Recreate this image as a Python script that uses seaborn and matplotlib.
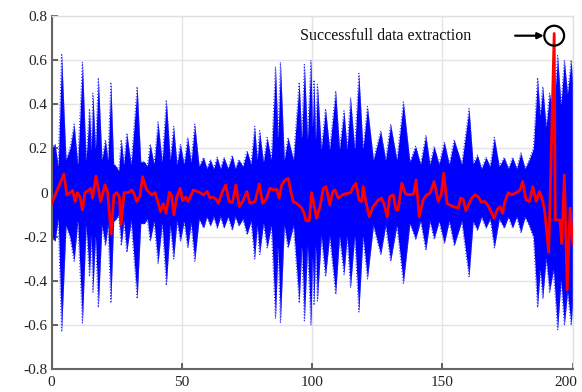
import matplotlib
matplotlib.use("Agg")
import matplotlib.pyplot as plt
import matplotlib.transforms as mtransforms
import seaborn as sns
import numpy as np
import pandas as pd
from matplotlib.patches import Ellipse

# ---------------- data ----------------
# envelope of the blue trace bundle (upper half; the bundle is symmetric about 0)
env_x = [0, 1.3, 2.5, 3.8, 5.5, 7, 8.6, 10, 11.8, 13.2, 14.5, 15.2, 15.8, 16.8, 17.9,
         19.3, 20.6, 21.6, 22.7, 23.8, 24.7, 25.7, 26.7, 27.7, 28.8, 30.5, 32.8, 34.2,
         35.6, 36.7, 37.8, 39.3, 40.8, 42.4, 44, 45.5, 46.8, 48.1, 49.4, 50.8, 52.2,
         53.5, 54.9, 56.6, 58.3, 59.6, 60.9, 62.2, 63.5, 64.8, 66.1, 67.7, 69.3, 70.5,
         71.8, 73.4, 75, 76.5, 77.9, 78.9, 79.8, 81.3, 82.7, 84.3, 85.9, 86.9, 87.8,
         89.3, 90.7, 92.8, 95, 96, 97, 98.2, 99.5, 100.1, 100.7, 101.3, 102, 103.5,
         105.1, 106.7, 109, 110.5, 112.2, 113.4, 114.7, 116.3, 117.9, 119.5, 121.2,
         123.5, 126.3, 128.2, 130.1, 132.5, 135, 137.5, 139.7, 141.6, 143.6, 145.2,
         146.8, 148.7, 150.7, 152.6, 154.5, 157.4, 160.2, 161.8, 163.4, 165, 166.7,
         168.3, 169.9, 171.8, 173.7, 175.3, 176.9, 178.5, 180.1, 181.7, 183.3, 184.9,
         186.5, 187.5, 188.5, 189.8, 191.1, 192.6, 194.2, 195.5, 196.8, 198, 199.4, 200]
env_amp = [0.20, 0.22, 0.12, 0.63, 0.15, 0.20, 0.31, 0.13, 0.59, 0.15, 0.38, 0.20, 0.45,
           0.20, 0.52, 0.15, 0.24, 0.15, 0.50, 0.13, 0.12, 0.10, 0.24, 0.13, 0.27, 0.13,
           0.48, 0.14, 0.14, 0.12, 0.22, 0.13, 0.32, 0.14, 0.42, 0.15, 0.30, 0.13, 0.22,
           0.13, 0.25, 0.14, 0.31, 0.12, 0.16, 0.11, 0.15, 0.11, 0.16, 0.11, 0.16, 0.11,
           0.17, 0.11, 0.15, 0.12, 0.19, 0.13, 0.30, 0.15, 0.28, 0.14, 0.25, 0.15, 0.57,
           0.25, 0.59, 0.15, 0.25, 0.15, 0.50, 0.25, 0.58, 0.25, 0.60, 0.30, 0.51, 0.25,
           0.49, 0.20, 0.38, 0.20, 0.46, 0.20, 0.37, 0.20, 0.43, 0.20, 0.54, 0.20, 0.39,
           0.15, 0.28, 0.15, 0.31, 0.15, 0.41, 0.14, 0.21, 0.13, 0.26, 0.13, 0.21, 0.13,
           0.23, 0.13, 0.24, 0.13, 0.38, 0.13, 0.17, 0.11, 0.16, 0.12, 0.25, 0.12, 0.16,
           0.11, 0.16, 0.11, 0.18, 0.11, 0.15, 0.20, 0.52, 0.35, 0.48, 0.30, 0.45, 0.35,
           0.62, 0.40, 0.60, 0.45, 0.60, 0.50]

# red (extracted) trace
red_x = [0, 4.7, 5.8, 7.1, 8.1, 9.0, 9.9, 10.9, 11.8, 12.8, 14.1, 15.0, 15.7, 17.0, 18.8,
         20.5, 21.5, 22.8, 23.9, 25.0, 26.0, 26.6, 27.8, 29.4, 30.7, 31.3, 32.6, 33.9,
         34.9, 36.5, 38.4, 39.7, 40.6, 41.8, 42.8, 43.9, 45.2, 46.0, 46.9, 48.0, 49.3,
         50.3, 51.5, 52.4, 54.4, 57.0, 58.3, 59.7, 60.8, 61.8, 63.1, 64.0, 65.3, 66.8,
         68.1, 69.4, 70.7, 72.0, 73.3, 74.9, 76.1, 78.1, 79.7, 81.0, 82.3, 83.8, 85.1,
         86.4, 87.3, 88.3, 89.6, 90.8, 91.8, 92.7, 94.0, 96.0, 96.9, 97.6, 98.9, 99.8,
         101.7, 103.0, 104.3, 105.3, 106.8, 107.9, 108.8, 110.0, 112.0, 113.5, 114.8,
         115.8, 116.8, 118.0, 119.0, 119.6, 120.6, 121.9, 123.4, 125.4, 126.6, 127.5,
         128.8, 129.8, 131.1, 132.2, 133.0, 134.4, 135.7, 137.0, 138.9, 139.9, 141.1,
         142.6, 143.9, 145.2, 146.8, 148.4, 149.5, 150.5, 151.8, 154.2, 156.1, 157.0,
         158.0, 159.0, 161.2, 162.5, 163.8, 165.0, 166.3, 167.6, 169.8, 171.1, 172.1,
         173.1, 174.0, 175.3, 176.6, 178.3, 179.8, 180.8, 182.1, 183.4, 184.7, 186.0,
         187.2, 188.1, 189.2, 190.8, 192.9, 193.3, 195.1, 195.8, 196.8, 197.9, 199.0, 200.0]
red_y = [-0.05, 0.085, -0.01, 0.0, 0.01, -0.04, 0.0, -0.02, -0.078, 0.0, 0.01, 0.02, -0.025,
         0.075, -0.04, 0.035, 0.0, -0.187, -0.01, 0.0, -0.02, -0.146, 0.0, 0.0, 0.012, 0.005,
         -0.04, -0.015, 0.072, 0.012, -0.01, 0.0, -0.035, -0.086, -0.05, -0.093, 0.002, -0.01,
         -0.1, -0.02, 0.02, -0.036, -0.02, -0.04, 0.012, 0.0, -0.01, 0.005, -0.025, -0.02,
         -0.03, -0.048, -0.003, 0.035, -0.04, -0.045, 0.035, -0.063, -0.04, 0.005, -0.048,
         -0.04, 0.04, -0.048, -0.03, 0.02, 0.012, 0.015, -0.025, 0.035, 0.057, 0.065, 0.005,
         -0.04, -0.048, -0.07, -0.093, -0.127, -0.127, 0.0, -0.116, -0.063, 0.02, 0.027,
         -0.056, 0.005, 0.012, -0.025, -0.007, -0.003, 0.0, 0.027, 0.042, -0.033, -0.04,
         0.027, -0.04, -0.109, -0.063, -0.033, -0.025, -0.048, -0.109, -0.018, -0.01, -0.078,
         -0.078, 0.042, -0.003, -0.01, -0.007, 0.057, -0.109, -0.033, -0.01, -0.003, 0.05,
         -0.04, -0.01, 0.088, -0.05, -0.063, -0.07, -0.025, -0.03, -0.081, -0.025, -0.01,
         -0.02, -0.043, -0.04, -0.06, -0.116, -0.076, -0.063, -0.093, -0.04, 0.0, -0.01, 0.0,
         0.012, 0.05, -0.033, -0.04, 0.027, -0.04, 0.005, -0.02, -0.078, -0.27, 0.72, -0.124,
         -0.124, -0.23, 0.08, -0.44, -0.07, -0.23]

x_ticks = [0, 50, 100, 150, 200]
y_ticks = [-0.8, -0.6, -0.4, -0.2, 0, 0.2, 0.4, 0.6, 0.8]
y_tick_labels = ["-0.8", "-0.6", "-0.4", "-0.2", "0", "0.2", "0.4", "0.6", "0.8"]
annotation_text = "Successfull data extraction"
highlight_x, highlight_y = 192.9, 0.71

# ---------------- styling ----------------
sns.set_theme(style="whitegrid")
plt.rcParams["font.family"] = ["Liberation Serif", "DejaVu Serif"]
plt.rcParams["axes.unicode_minus"] = False

fig = plt.figure(figsize=(5.82, 3.92), dpi=100)
ax = fig.add_axes([0.0888, 0.0574, 0.984 - 0.0888, 0.9597 - 0.0574])

env = pd.DataFrame({"x": env_x, "upper": env_amp})
env["lower"] = -env["upper"]

ax.fill_between(env["x"], env["lower"], env["upper"], color="#0000FF", lw=0, zorder=2)
sns.lineplot(data=env, x="x", y="upper", ax=ax, color="#3333FF", lw=0.8,
             linestyle=":", zorder=2, estimator=None, sort=False)
sns.lineplot(data=env, x="x", y="lower", ax=ax, color="#3333FF", lw=0.8,
             linestyle=":", zorder=2, estimator=None, sort=False)

red = pd.DataFrame({"x": red_x, "y": red_y})
sns.lineplot(data=red, x="x", y="y", ax=ax, color="#FF0000", lw=2.0,
             zorder=3, estimator=None, sort=False)

# highlight circle + arrow + text
ax.add_patch(Ellipse((highlight_x, highlight_y), width=7.6, height=0.09,
                     fill=False, edgecolor="black", lw=1.6, zorder=5))
ax.annotate("", xy=(highlight_x - 4.0, highlight_y), xytext=(highlight_x - 15.0, highlight_y),
            arrowprops=dict(arrowstyle="-|>", color="black", lw=1.6,
                            mutation_scale=9, shrinkA=0, shrinkB=0), zorder=5)
ax.text(95.4, highlight_y, annotation_text, ha="left", va="center",
        fontsize=11.5, color="#111111", zorder=5)

ax.set_xlim(0, 200)
ax.set_ylim(-0.8, 0.8)
ax.set_xticks(x_ticks)
ax.set_xticklabels([str(t) for t in x_ticks])
ax.set_yticks(y_ticks)
ax.set_yticklabels(y_tick_labels)
ax.set_xlabel("")
ax.set_ylabel("")

ax.grid(True, color="#E4E4E4", lw=1.0)
ax.set_axisbelow(True)
for side in ["left", "bottom"]:
    ax.spines[side].set_color("#666666")
    ax.spines[side].set_linewidth(1.5)
for side in ["top", "right"]:
    ax.spines[side].set_color("#E0E0E0")
    ax.spines[side].set_linewidth(1.0)

ax.tick_params(axis="both", direction="in", length=4, width=1.3, color="#555555",
               labelsize=11, labelcolor="#222222")
ax.tick_params(axis="y", pad=3)
ax.tick_params(axis="x", pad=5)
ax.tick_params(top=False, right=False, left=True, bottom=True)

# keep the last x label inside the figure, as in the reference
last = ax.get_xticklabels()[-1]
last.set_transform(last.get_transform() +
                   mtransforms.ScaledTranslation(-5 / 72, 0, fig.dpi_scale_trans))

fig.savefig("out.png", dpi=100)
